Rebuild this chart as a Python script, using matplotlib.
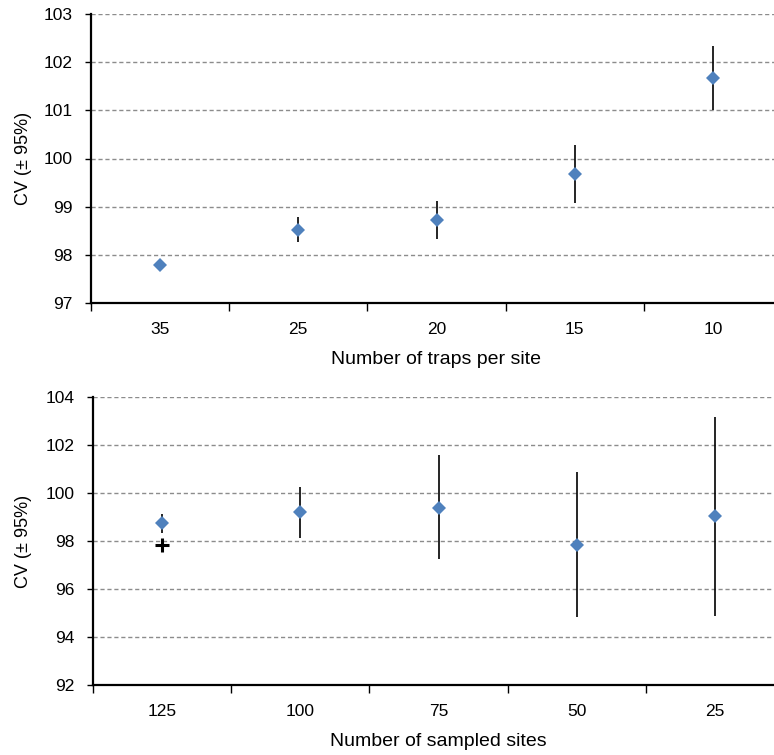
import matplotlib
matplotlib.use("Agg")
import matplotlib.pyplot as plt
import numpy as np

plt.rcParams['font.family'] = ['Liberation Sans', 'DejaVu Sans']

traps_labels = ["35", "25", "20", "15", "10"]
traps_cv = [97.79, 98.52, 98.72, 99.68, 101.68]
traps_lo = [97.76, 98.26, 98.32, 99.08, 101.00]
traps_hi = [97.82, 98.79, 99.12, 100.28, 102.34]

sites_labels = ["125", "100", "75", "50", "25"]
sites_cv = [98.75, 99.21, 99.39, 97.82, 99.04]
sites_lo = [98.35, 98.11, 97.24, 94.83, 94.89]
sites_hi = [99.14, 100.24, 101.57, 100.86, 103.17]
cross_cv = [97.83]

W, H = 774, 755
fig = plt.figure(figsize=(W / 100, H / 100), dpi=100)

def fx(px):
    return px / W

def fy(py):
    return 1 - py / H

ax1 = fig.add_axes([fx(91), fy(303), fx(782 - 91), fy(14) - fy(303)])
ax2 = fig.add_axes([fx(93), fy(685), fx(784 - 93), fy(397) - fy(685)])

blue = '#4F81BD'

def style(ax, labels, yt, ylim, xlabel, left_px, height_px):
    n = len(labels)
    ax.set_xlim(0, n)
    ax.set_ylim(*ylim)
    ax.set_yticks(yt)
    ax.set_yticklabels([str(v) for v in yt], fontsize=12.5)
    ax.set_xticks(np.arange(n) + 0.5)
    ax.set_xticklabels(labels, fontsize=12.5)
    ax.set_xticks(np.arange(n + 1), minor=True)
    ax.tick_params(axis='x', which='major', length=0, pad=14)
    ax.tick_params(axis='x', which='minor', length=6, width=1, direction='out')
    ax.tick_params(axis='y', length=4, width=1, direction='out', pad=9)
    for s in ['top', 'right']:
        ax.spines[s].set_visible(False)
    for s in ['left', 'bottom']:
        ax.spines[s].set_linewidth(1.6)
        ax.spines[s].set_color('black')
    for v in yt[1:]:
        ax.axhline(v, color='#8c8c8c', lw=1, ls=(0, (3, 2)), zorder=0)
    ax.set_xlabel(xlabel, fontsize=14)
    ax.xaxis.label.set_va('center')
    ax.xaxis.set_label_coords(0.5, -57 / height_px)
    ax.set_ylabel('CV (± 95%)', fontsize=13)
    ax.yaxis.set_label_coords((32 - left_px) / 691, 0.5)

x1 = np.arange(len(traps_labels)) + 0.5
ax1.vlines(x1, traps_lo, traps_hi, color='black', lw=1.2, zorder=2)
ax1.plot(x1, traps_cv, 'D', color=blue, ms=7.5, zorder=3, markeredgewidth=0)
style(ax1, traps_labels, [97, 98, 99, 100, 101, 102, 103], (97, 103),
      'Number of traps per site', 91, 289)

x2 = np.arange(len(sites_labels)) + 0.5
ax2.vlines(x2, sites_lo, sites_hi, color='black', lw=1.2, zorder=2)
ax2.plot(x2, sites_cv, 'D', color=blue, ms=7.5, zorder=3, markeredgewidth=0)
ax2.plot(x2[:1], cross_cv, '+', color='black', ms=10, mew=2.2, zorder=4)
style(ax2, sites_labels, [92, 94, 96, 98, 100, 102, 104], (92, 104),
      'Number of sampled sites', 93, 288)

fig.savefig('out.png', dpi=100)
